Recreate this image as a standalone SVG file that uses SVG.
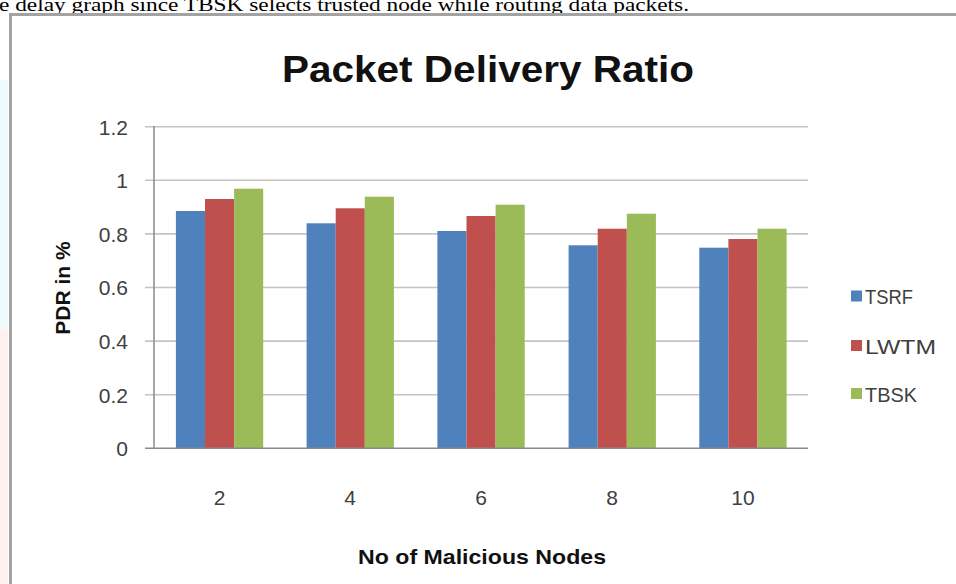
<svg xmlns="http://www.w3.org/2000/svg" width="956" height="584" viewBox="0 0 956 584">
<style>
.lbl{font-family:"Liberation Sans",Arial,sans-serif;font-size:21px;fill:#404040}
.ttl{font-family:"Liberation Sans",Arial,sans-serif;font-weight:bold;fill:#111}
.grid{stroke:#c4c4c4;stroke-width:1.6}
.ax{stroke:#8a8a8a;stroke-width:1.5}
.b1{fill:#4F81BD}.b2{fill:#C0504D}.b3{fill:#9BBB59}
</style>
<rect width="956" height="584" fill="#fff"/>
<rect x="0" y="80" width="8" height="250" fill="#eefafb"/>
<rect x="0" y="330" width="8" height="254" fill="#fdf1f1"/>
<text x="-1" y="10.5" font-family="'Liberation Serif','Times New Roman',serif" font-size="19" fill="#000" textLength="690" lengthAdjust="spacingAndGlyphs">e delay graph since TBSK selects trusted node while routing data packets.</text>
<rect x="10.5" y="14.5" width="960" height="600" fill="#fff" stroke="#a3a3a3" stroke-width="3"/>
<g id="title"><text class="ttl" x="282" y="82" font-size="37" textLength="412" lengthAdjust="spacingAndGlyphs">Packet Delivery Ratio</text></g>
<g id="grid">
<line class="grid" x1="145" y1="126.7" x2="808" y2="126.7"/>
<line class="grid" x1="145" y1="180.3" x2="808" y2="180.3"/>
<line class="grid" x1="145" y1="233.9" x2="808" y2="233.9"/>
<line class="grid" x1="145" y1="287.5" x2="808" y2="287.5"/>
<line class="grid" x1="145" y1="341.1" x2="808" y2="341.1"/>
<line class="grid" x1="145" y1="394.7" x2="808" y2="394.7"/>
</g>
<g id="yticks" class="lbl" text-anchor="end">
<text x="128" y="134.5">1.2</text>
<text x="128" y="188">1</text>
<text x="128" y="241.7">0.8</text>
<text x="128" y="295.3">0.6</text>
<text x="128" y="348.9">0.4</text>
<text x="128" y="402.5">0.2</text>
<text x="128" y="456">0</text>
</g>
<g id="bars">
<g id="g2"><rect class="b1" x="175.9" y="211" width="29.1" height="237.3"/><rect class="b2" x="205" y="199" width="29.1" height="249.3"/><rect class="b3" x="234.1" y="188.7" width="29.1" height="259.6"/></g>
<g id="g4"><rect class="b1" x="306.6" y="223.3" width="29.1" height="225"/><rect class="b2" x="335.7" y="208.3" width="29.1" height="240"/><rect class="b3" x="364.8" y="196.7" width="29.1" height="251.6"/></g>
<g id="g6"><rect class="b1" x="437.4" y="231" width="29.1" height="217.3"/><rect class="b2" x="466.5" y="216" width="29.1" height="232.3"/><rect class="b3" x="495.6" y="204.7" width="29.1" height="243.6"/></g>
<g id="g8"><rect class="b1" x="568.6" y="245.3" width="29.1" height="203"/><rect class="b2" x="597.7" y="228.7" width="29.1" height="219.6"/><rect class="b3" x="626.8" y="213.7" width="29.1" height="234.6"/></g>
<g id="g10"><rect class="b1" x="699.3" y="247.7" width="29.1" height="200.6"/><rect class="b2" x="728.4" y="239" width="29.1" height="209.3"/><rect class="b3" x="757.5" y="228.7" width="29.1" height="219.6"/></g>
</g>
<g id="axes">
<line class="ax" x1="154" y1="126" x2="154" y2="448.3"/>
<line class="ax" x1="145" y1="448.3" x2="808" y2="448.3"/>
</g>
<g id="xticks" class="lbl" text-anchor="middle">
<text x="219.5" y="505">2</text>
<text x="350.2" y="505">4</text>
<text x="481" y="505">6</text>
<text x="612" y="505">8</text>
<text x="743" y="505">10</text>
</g>
<g id="xtitle"><text class="ttl" x="358" y="564" font-size="21" textLength="248" lengthAdjust="spacingAndGlyphs">No of Malicious Nodes</text></g>
<g id="ytitle"><text class="ttl" transform="translate(70,288) rotate(-90)" text-anchor="middle" font-size="21">PDR in %</text></g>
<g id="legend">
<g id="leg-tsrf"><rect class="b1" x="851" y="290.5" width="11" height="11"/><text class="lbl" x="865" y="304" textLength="48" lengthAdjust="spacingAndGlyphs">TSRF</text></g>
<g id="leg-lwtm"><rect class="b2" x="851" y="340" width="11" height="11"/><text class="lbl" x="865" y="353.5" textLength="71" lengthAdjust="spacingAndGlyphs">LWTM</text></g>
<g id="leg-tbsk"><rect class="b3" x="851" y="388" width="11" height="11"/><text class="lbl" x="865" y="401.5" textLength="52" lengthAdjust="spacingAndGlyphs">TBSK</text></g>
</g>
</svg>
